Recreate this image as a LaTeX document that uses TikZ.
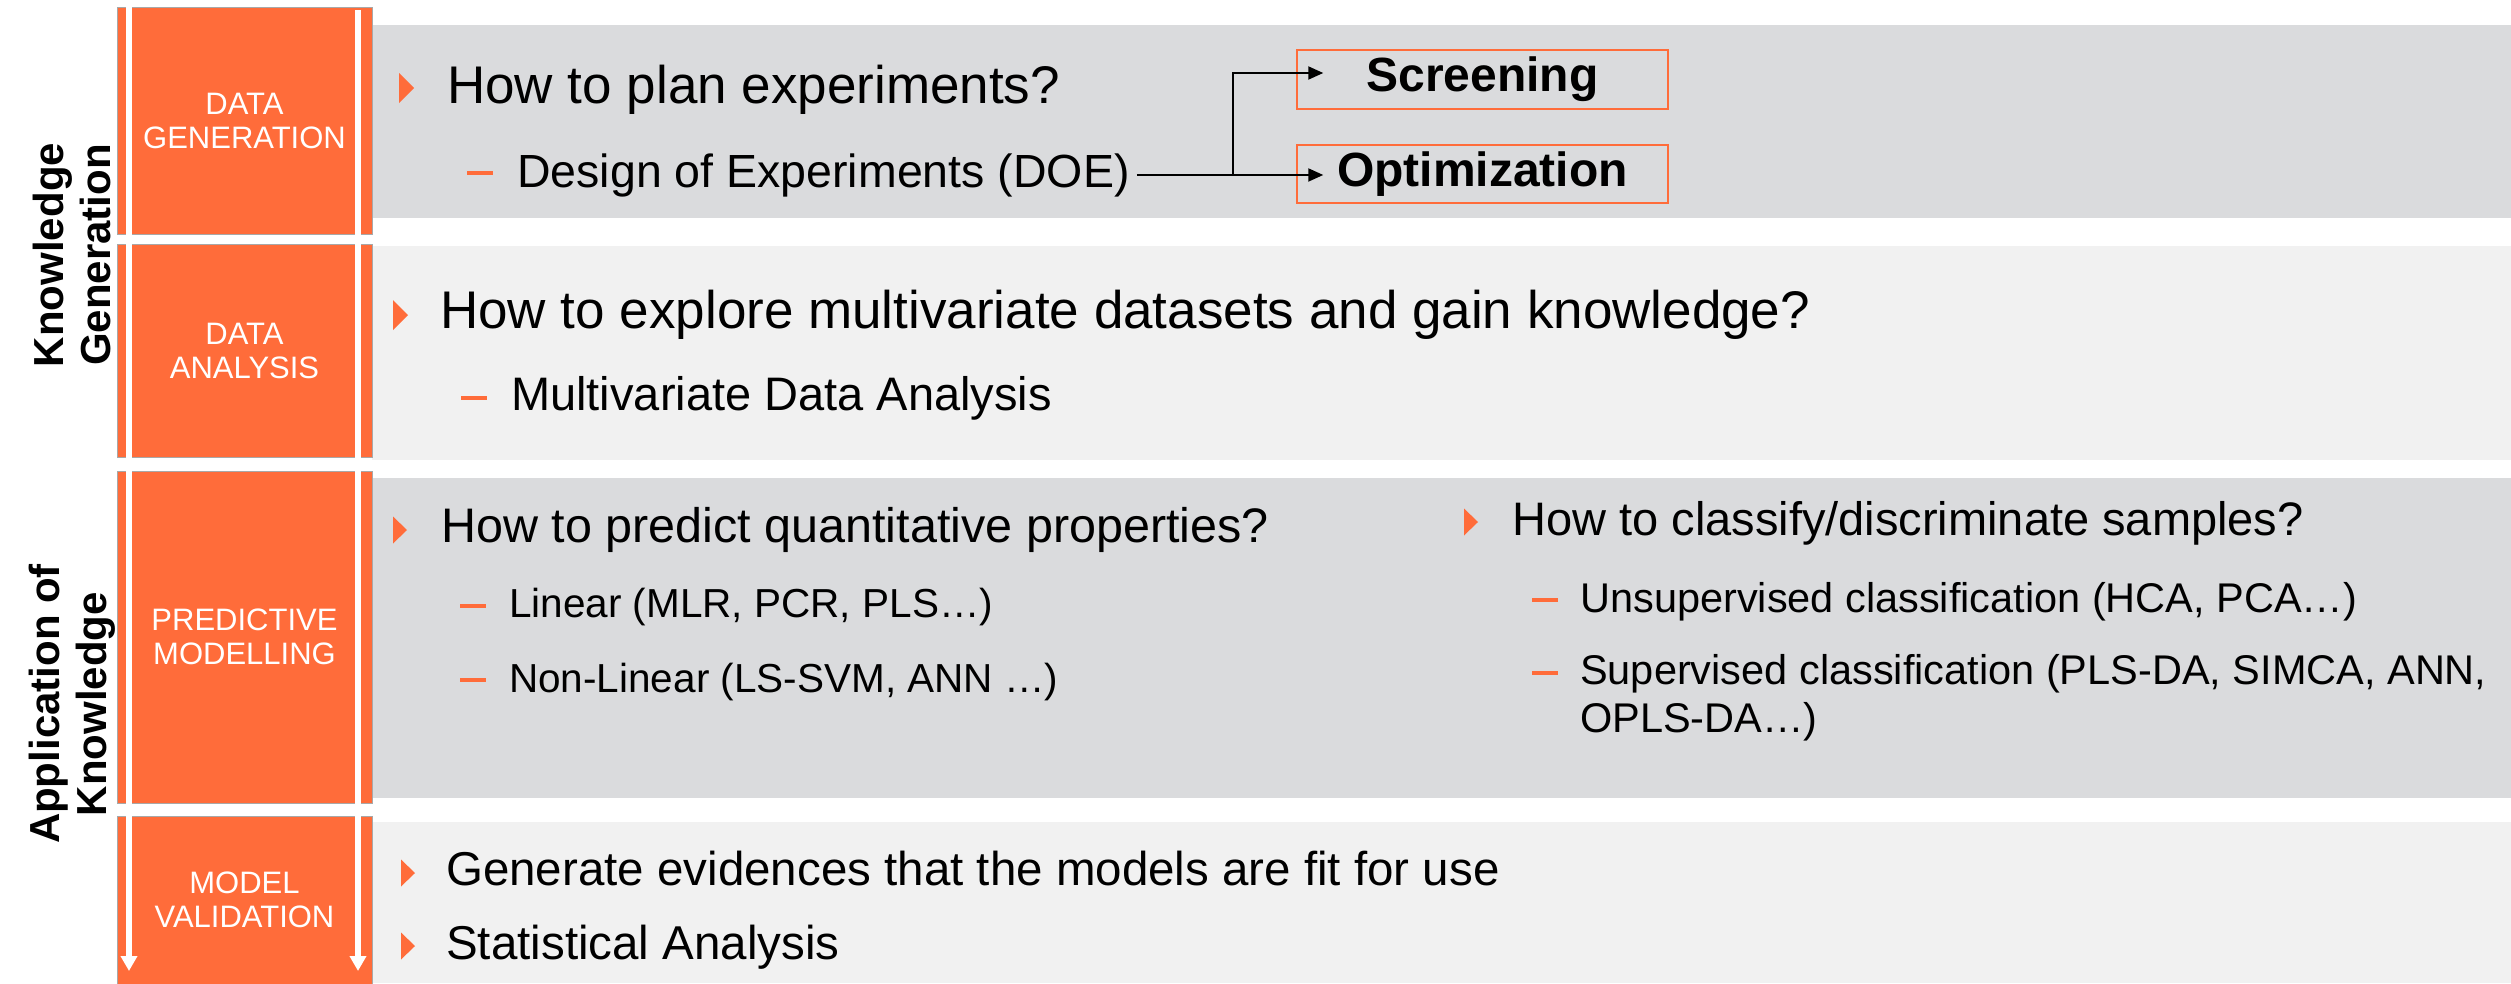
\documentclass[tikz,border=0pt]{standalone}
\usepackage{fontspec}
\setmainfont{Liberation Sans}
\usetikzlibrary{arrows.meta}

\definecolor{accent}{RGB}{255,108,58}
\definecolor{banddark}{RGB}{218,219,221}
\definecolor{bandlight}{RGB}{241,241,241}
\definecolor{edgegray}{RGB}{168,168,168}

\tikzset{
  phase/.style={rectangle, fill=accent, draw=edgegray, line width=1pt,
    text=white, align=center, inner sep=0pt, minimum width=255pt,
    font=\fontsize{31}{34}\selectfont},
  sidelabel/.style={rotate=90, align=center, inner sep=0pt,
    font=\bfseries\fontsize{42}{47}\selectfont},
  txt/.style={anchor=base west, inner sep=0pt},
  mainA/.style={txt, font=\fontsize{53}{60}\selectfont},
  subA/.style={txt, font=\fontsize{47}{54}\selectfont},
  mainB/.style={txt, font=\fontsize{47.5}{54}\selectfont},
  subB/.style={txt, align=left, font=\fontsize{41.5}{48}\selectfont},
  choice/.style={rectangle, draw=accent, line width=1.5pt, inner sep=0pt,
    minimum width=371pt, font=\bfseries\fontsize{48}{56}\selectfont},
  flow/.style={draw=black, line width=2pt,
    -{Triangle[length=15pt,width=13pt]}},
  lane/.style={draw=white, line width=6pt,
    -{Triangle[length=15pt,width=16pt]}},
  tri/.pic={\fill[accent] (0,-15) -- (15,0) -- (0,15) -- cycle;},
  trismall/.pic={\fill[accent] (0,-13.5) -- (14,0) -- (0,13.5) -- cycle;},
  subdash/.pic={\draw[accent, line width=4pt] (0,0) -- (26,0);}
}

\begin{document}
\begin{tikzpicture}[x=1pt, y=-1pt]
\useasboundingbox (0,0) rectangle (2511,983);
\fill[white] (0,0) rectangle (2511,983);

% row bands
\fill[banddark]  (372,25)  rectangle (2511,218);
\fill[bandlight] (372,246) rectangle (2511,460);
\fill[banddark]  (372,478) rectangle (2511,798);
\fill[bandlight] (372,822) rectangle (2511,983);

% phase column
\node[phase, minimum height=227pt] (gen)  at (244.5,120.5) {DATA\\GENERATION};
\node[phase, minimum height=213pt] (ana)  at (244.5,350.5) {DATA\\ANALYSIS};
\node[phase, minimum height=332pt] (pred) at (244.5,637)   {PREDICTIVE\\MODELLING};
\node[phase, minimum height=168pt] (val)  at (244.5,900)   {MODEL\\VALIDATION};

% downward lanes through the column
\coordinate (laneLtop) at (129,7);
\coordinate (laneLend) at (129,971);
\coordinate (laneRtop) at (358,10);
\coordinate (laneRend) at (358,971);
\draw[lane] (laneLtop) -- (laneLend);
\draw[lane] (laneRtop) -- (laneRend);

% group labels
\node[sidelabel] (kgen) at (72,255) {Knowledge\\Generation};
\node[sidelabel] (kapp) at (72,704) {Application of\\Knowledge};

% row 1: data generation
\pic at (399,88) {tri};
\node[mainA] (q1) at (447,103) {How to plan experiments?};
\pic at (467,173) {subdash};
\node[subA, font=\fontsize{46.5}{54}\selectfont] (doe) at (517,187) {Design of Experiments (DOE)};

\node[choice, minimum height=59pt] (scr) at (1482.5,79.5) {Screening};
\node[choice, minimum height=58pt] (opt) at (1482.5,174) {Optimization};

\coordinate (fork) at (1233,0);
\draw[flow] ([xshift=7pt]doe.east) -- ([xshift=27pt]opt.west |- doe.east);
\draw[flow] (fork |- doe.east) |- ([xshift=27pt,yshift=6.5pt]scr.west);

% row 2: data analysis
\pic at (393,315) {tri};
\node[mainA] (q2) at (440,328) {How to explore multivariate datasets and gain knowledge?};
\pic at (461,398) {subdash};
\node[subA] (mva) at (511,410) {Multivariate Data Analysis};

% row 3: predictive modelling
\pic at (393,530) {trismall};
\node[mainB, font=\fontsize{48.5}{54}\selectfont] (q3) at (441,542) {How to predict quantitative properties?};
\pic at (460,606) {subdash};
\node[subB, font=\fontsize{40.5}{48}\selectfont] (lin) at (509,617) {Linear (MLR, PCR, PLS…)};
\pic at (460,680) {subdash};
\node[subB, font=\fontsize{40.5}{48}\selectfont] (nonlin) at (509,692) {Non-Linear (LS-SVM, ANN …)};

\pic at (1464,522) {trismall};
\node[mainB, font=\fontsize{47}{54}\selectfont] (q4) at (1512,535) {How to classify/discriminate samples?};
\pic at (1532,600) {subdash};
\node[subB] (unsup) at (1580,612) {Unsupervised classification (HCA, PCA…)};
\pic at (1532,673) {subdash};
\node[subB] (sup) at (1580,684) {Supervised classification (PLS-DA, SIMCA, ANN,};
\node[subB] (sup2) at (1580,732) {OPLS-DA…)};

% row 4: model validation
\pic at (401,873) {trismall};
\node[mainB] (q5) at (446,885) {Generate evidences that the models are fit for use};
\pic at (401,946) {trismall};
\node[mainB] (q6) at (446,959) {Statistical Analysis};
\end{tikzpicture}
\end{document}
